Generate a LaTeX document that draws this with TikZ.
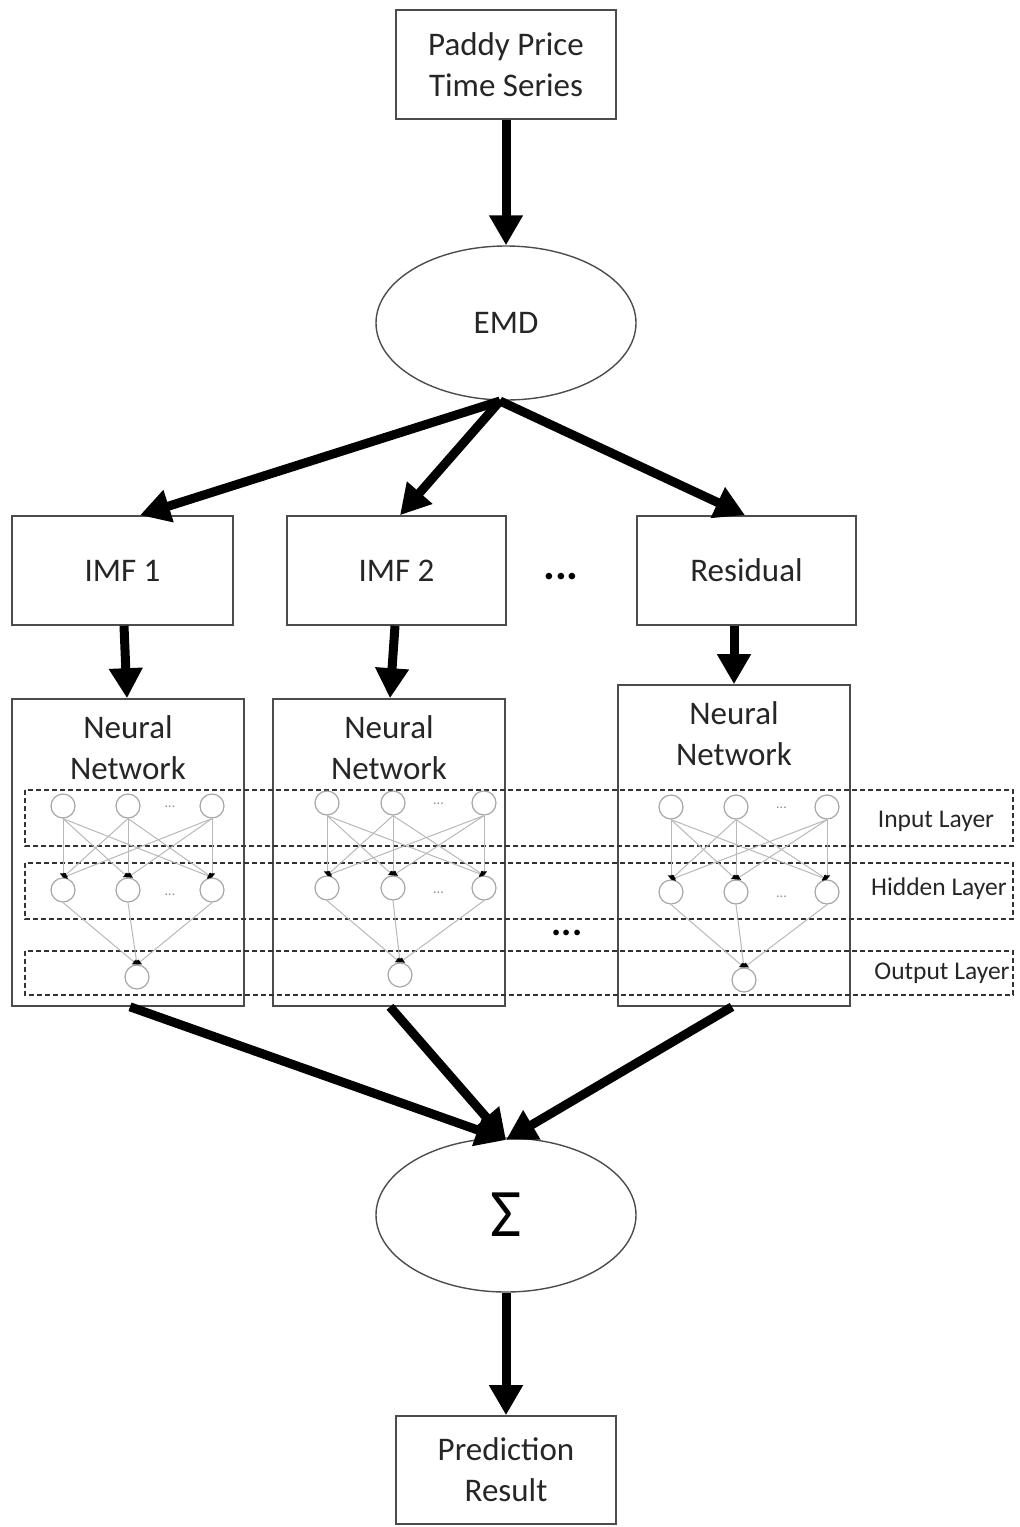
\documentclass[tikz,border=0pt]{standalone}
\usepackage{fontspec}
\setmainfont{Carlito}
\usetikzlibrary{arrows.meta,shapes.geometric}
\begin{document}
\begin{tikzpicture}[x=1pt,y=-1pt,
  box/.style={draw=black!70,line width=1.6pt,minimum width=#1,inner sep=0pt},
  box/.default=220pt,
  oval/.style={draw=black!70,line width=1.4pt,ellipse,minimum width=260pt,minimum height=154pt,inner sep=0pt},
  lbl/.style={font=\fontsize{33}{41}\selectfont,align=center,text=black!85},
  ell/.style={font=\bfseries\fontsize{44}{44}\selectfont,text=black},
  big/.style={line width=9pt,-{Triangle[length=30pt,width=32pt]}},
  band/.style={draw=black!80,line width=1.3pt,dash pattern=on 5pt off 3pt},
  neuron/.style={circle,draw=black!35,line width=1.2pt,minimum size=24pt,inner sep=0pt},
  syn/.style={draw=black!28,line width=1pt},
  synarr/.style={syn,-{Triangle[length=4pt,width=6pt,black]}},
  tiny/.style={font=\fontsize{14}{14}\selectfont,text=black!45},
  layer/.style={font=\fontsize{25.5}{26}\selectfont,text=black!85,anchor=center}
]
\useasboundingbox (0,0) rectangle (1020,1527);

% source, decomposition and sum
\node[box,minimum height=109pt,lbl] (src) at (506,64.5) {Paddy Price\\Time Series};
\node[oval,lbl] (emd) at (506,323) {EMD};
\node[oval,font=\fontsize{68}{68}\selectfont] (sum) at (506,1215) {Σ};
\node[box,minimum height=108pt,lbl] (res) at (506,1470) {Prediction\\Result};

% components of the decomposition
\node[box=221pt,minimum height=109pt,lbl] (imf1) at (122.5,570.5) {IMF 1};
\node[box=219pt,minimum height=109pt,lbl] (imf2) at (396.5,570.5) {IMF 2};
\node[box=219pt,minimum height=109pt,lbl] (resid) at (746.5,570.5) {Residual};
\node[ell] (dots1) at (561,577) {...};

% neural network boxes
\node[box=232pt,minimum height=307pt] (nn1) at (128,852.5) {};
\node[box=232pt,minimum height=307pt] (nn2) at (389,852.5) {};
\node[box=232pt,minimum height=321pt] (nn3) at (734,845.5) {};
\node[lbl] (t1) at (128,748) {Neural\\Network};
\node[lbl] (t2) at (389,748) {Neural\\Network};
\node[lbl] (t3) at (734,734) {Neural\\Network};
\node[ell,font=\bfseries\fontsize{38}{38}\selectfont] (dots2) at (567,933) {...};

% layer bands
\draw[band] (25,790) rectangle (1013,846);
\draw[band] (25,863) rectangle (1013,919);
\draw[band] (25,951) rectangle (1013,995);
\node[layer] (lin) at (936,821) {Input Layer};
\node[layer] (lhid) at (939,889) {Hidden Layer};
\node[layer] (lout) at (942,973) {Output Layer};

% neurons of each network
\foreach \k/\xa/\xb/\xc/\xo/\yi/\yh/\yo in {1/63/128/212/137/806/890/977, 2/327/393/484/400/803/888/975, 3/671/736/827/744/807/892/980}{
  \node[neuron] (i\k a) at (\xa,\yi) {};
  \node[neuron] (i\k b) at (\xb,\yi) {};
  \node[neuron] (i\k c) at (\xc,\yi) {};
  \node[neuron] (h\k a) at (\xa,\yh) {};
  \node[neuron] (h\k b) at (\xb,\yh) {};
  \node[neuron] (h\k c) at (\xc,\yh) {};
  \node[neuron] (o\k) at (\xo,\yo) {};
  \node[tiny] (di\k) at ({(\xb+\xc)/2},{\yi+1}) {...};
  \node[tiny] (dh\k) at ({(\xb+\xc)/2},{\yh+5}) {...};
  \foreach \s in {a,b,c}{
    \foreach \t in {a,b,c}{
      \draw[synarr] (i\k\s.south) -- (h\k\t.north);
    }
    \draw[synarr] (h\k\s.south) -- (o\k.north);
  }
}

% main flow
\coordinate (split) at (500,401);
\coordinate (join) at (506,1140);
\draw[big] (src.south) -- (emd.north);
\draw[big] (split) -- (imf1.north -| 140,0);
\draw[big] (split) -- (imf2.north -| 400,0);
\draw[big] (split) -- (resid.north -| 745,0);
\draw[big] (imf1.south -| 124,0) -- (nn1.north -| 127,0);
\draw[big] (imf2.south -| 395,0) -- (nn2.north -| 390,0);
\draw[big] (resid.south -| 734,0) -- (nn3.north -| 734,0);
\draw[big] (nn1.south -| 130,0) -- (join);
\draw[big] (nn2.south -| 390,0) -- (join);
\draw[big] (nn3.south -| 732,0) -- (join);
\draw[big] (sum.south) -- (res.north);
\end{tikzpicture}
\end{document}
